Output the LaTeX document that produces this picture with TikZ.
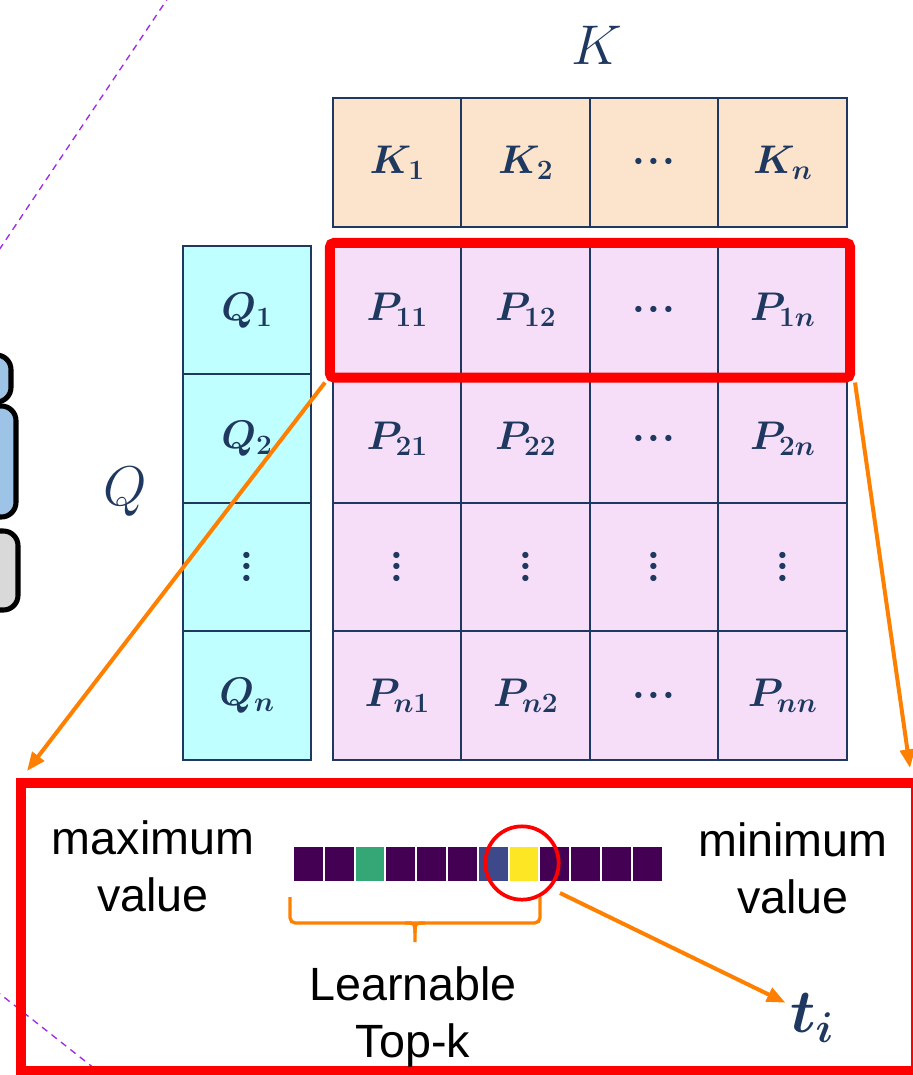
\documentclass[tikz,border=0pt]{standalone}
\usepackage{fix-cm}
\usepackage{amsmath}
\usepackage{bm}
\usepackage{fontspec}
\setmainfont{Liberation Sans}
\usepackage{tikz}
\usetikzlibrary{arrows.meta,positioning,fit}

\definecolor{navy}{RGB}{31,56,96}
\definecolor{kfill}{RGB}{252,228,204}
\definecolor{qfill}{RGB}{192,255,255}
\definecolor{pfill}{RGB}{246,222,248}
\definecolor{hired}{RGB}{255,0,0}
\definecolor{arrorange}{RGB}{255,128,0}
\definecolor{vpurple}{RGB}{68,1,84}
\definecolor{vgreen}{RGB}{53,167,118}
\definecolor{vblue}{RGB}{62,73,137}
\definecolor{vyellow}{RGB}{253,231,37}
\definecolor{dashviolet}{RGB}{160,40,230}
\definecolor{boxblue}{RGB}{157,195,230}
\definecolor{boxgray}{RGB}{217,217,217}

\newcommand{\hdts}{\bm{\cdot}\mkern-3mu\bm{\cdot}\mkern-3mu\bm{\cdot}}
\newcommand{\vdts}{\vcenter{\baselineskip=8.5pt\lineskiplimit=-100pt
  \hbox{$\bm{\cdot}$}\hbox{$\bm{\cdot}$}\hbox{$\bm{\cdot}$}}}

\tikzset{
  cell/.style={draw=navy, line width=1.5pt, minimum width=96.4pt, minimum height=96.4pt,
    inner sep=0pt, text=navy, font=\fontsize{30}{33}\selectfont},
  axislabel/.style={text=navy, font=\fontsize{42}{46}\selectfont},
  rowbox/.style={draw=hired, line width=7.5pt, rounded corners=3pt, inner sep=1.5pt},
  orangearrow/.style={draw=arrorange, line width=3pt, -{Triangle[length=14pt,width=11pt]}},
  stripcell/.style={minimum width=21.5pt, minimum height=25pt, inner sep=0pt},
  note/.style={align=center, font=\fontsize{35}{43}\selectfont},
  leftbox/.style={draw=black, line width=3.8pt, rounded corners=11pt},
  dashline/.style={draw=dashviolet, line width=1pt, dash pattern=on 5pt off 4pt}
}

\begin{document}
\begin{tikzpicture}[x=0.75pt, y=-0.75pt]
		
		\useasboundingbox (0,0) rectangle (913,1075);
		\clip (0,0) rectangle (913,1075);
		
		% --- cut-off parts on the left ---
		\draw[dashline] (170,-5) -- (-5,256);
		\draw[dashline] (-5,990) -- (104,1076);
		\draw[leftbox, fill=boxblue] (-60,355) rectangle (11,402);
		\draw[leftbox, fill=boxblue] (-60,406) rectangle (16,517);
		\draw[leftbox, fill=boxgray] (-60,531) rectangle (18,610);
		
		% --- K row ---
		\node[axislabel] (klab) at (597,45) {$K$};
		\foreach \lab [count=\i] in {{\bm{K_1}},{\bm{K_2}},{\hdts},{\bm{K_n}}}
			\node[cell, fill=kfill, minimum height=96.8pt] (k\i) at ({268.75+128.5*\i},162.5) {$\lab$};
		
		% --- Q column ---
		\node[axislabel] (qlab) at (125,492) {$Q$};
		\foreach \lab [count=\j] in {{\bm{Q_1}},{\bm{Q_2}},{\vdts},{\bm{Q_n}}}
			\node[cell, fill=qfill] (q\j) at (247,{181.75+128.5*\j}) {$\lab$};
		
		% --- P matrix ---
		\foreach \lab [count=\i] in {{\bm{P_{11}}},{\bm{P_{12}}},{\hdts},{\bm{P_{1n}}}}
			\node[cell, fill=pfill] (p1\i) at ({268.75+128.5*\i},310.25) {$\lab$};
		\foreach \lab [count=\i] in {{\bm{P_{21}}},{\bm{P_{22}}},{\hdts},{\bm{P_{2n}}}}
			\node[cell, fill=pfill] (p2\i) at ({268.75+128.5*\i},438.75) {$\lab$};
		\foreach \i in {1,...,4}
			\node[cell, fill=pfill] (p3\i) at ({268.75+128.5*\i},567.25) {$\vdts$};
		\foreach \lab [count=\i] in {{\bm{P_{n1}}},{\bm{P_{n2}}},{\hdts},{\bm{P_{nn}}}}
			\node[cell, fill=pfill] (p4\i) at ({268.75+128.5*\i},695.75) {$\lab$};
		
		% first row is picked
		\node[rowbox, fit=(p11)(p14)] (row1) {};
		
		% --- zoomed row ---
		\draw[draw=hired, line width=8pt] (21,783) rectangle (916,1071);
		\coordinate (zl) at (27,771);
		\coordinate (zr) at (910,768);
		\draw[orangearrow] (row1.south west) -- (zl);
		\draw[orangearrow] (row1.south east) -- (zr);
		
		\node[note] (maxv) at (153,866) {maximum\\value};
		\node[note] (minv) at (793,868) {minimum\\value};
		
		% score strip
		\foreach \c [count=\i] in {vpurple,vpurple,vgreen,vpurple,vpurple,vpurple,vblue,vyellow,vpurple,vpurple,vpurple,vpurple}
			\node[stripcell, fill=\c] (s\i) at ({277.6+30.8*\i},864) {};
		\node[draw=hired, circle, line width=2.8pt, minimum size=55pt, inner sep=0pt] (pick) at (522,863) {};
		
		% brace under top-k
		\draw[draw=arrorange, line width=2.5pt, rounded corners=4pt] (290,897) -- (290,923) -- (540,923) -- (540,897);
		\draw[draw=arrorange, line width=2.5pt] (405,923) .. controls (415,923) .. (415,933) -- (415,942);
		\draw[draw=arrorange, line width=2.5pt] (425,923) .. controls (415,923) .. (415,933);
		\node[note] (topk) at (413,1017) {Learnable\\Top-k};
		
		% threshold
		\node[text=navy, font=\fontsize{46}{50}\selectfont] (ti) at (812,1018) {$\bm{t_i}$};
		\coordinate (tistart) at (560,893);
		\draw[orangearrow] (tistart) -- (ti.150);
		
	\end{tikzpicture}
\end{document}
